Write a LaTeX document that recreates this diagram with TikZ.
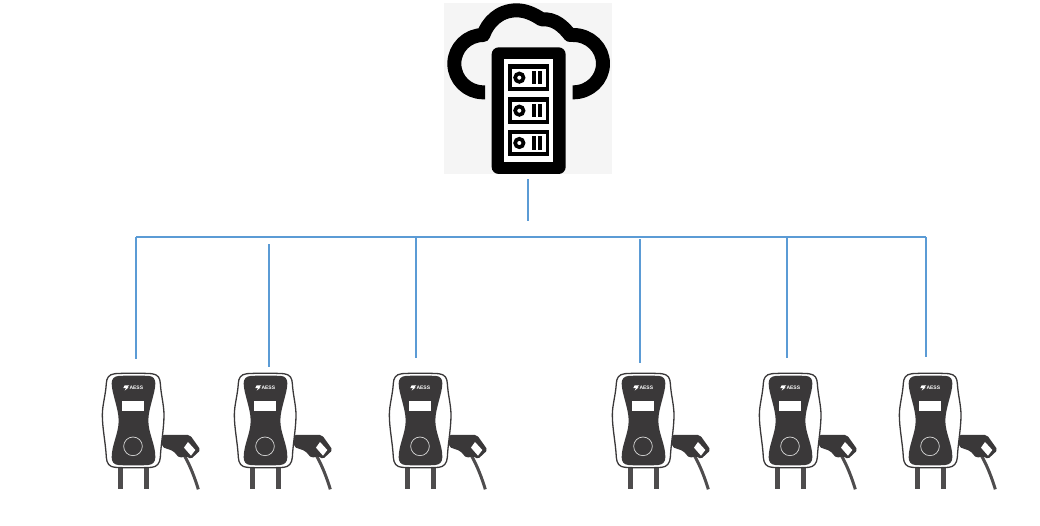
\documentclass[tikz,border=0pt]{standalone}
\usepackage{fontspec}
\setmainfont{Liberation Sans}
\definecolor{wire}{HTML}{5B9BD5}
\definecolor{evdark}{HTML}{3A3839}
\definecolor{panel}{HTML}{F5F5F5}
\tikzset{
  wire/.style={draw=wire,line width=1.3pt},
  evcharger/.pic={
    \begin{scope}[x=0.3333pt,y=-0.3333pt]
      \fill[evdark!90!white] (83,345) rectangle (100,418);
      \fill[evdark!90!white] (163,345) rectangle (178,418);
      \draw[evdark!90!white,line width=3pt] (282,315) .. controls (300,345) and (315,385) .. (325,418);
      \fill[evdark,rounded corners=2pt] (216,255) -- (300,255) -- (332,300) -- (302,328) -- (290,318) -- (268,324) -- (250,303) -- (216,291) -- cycle;
      \fill[white] (294,276) -- (316,300) -- (303,317) -- (282,293) -- cycle;
      \draw[evdark,fill=white,line width=1.3pt] (75,71)
        .. controls (110,69) and (150,69) .. (185,71)
        .. controls (205,73) and (210,85) .. (211,100)
        .. controls (213,135) and (222,165) .. (222,195)
        .. controls (222,235) and (213,280) .. (211,322)
        .. controls (210,340) and (200,351) .. (185,352)
        .. controls (150,354) and (110,354) .. (75,352)
        .. controls (58,351) and (50,340) .. (49,322)
        .. controls (47,280) and (37,235) .. (37,195)
        .. controls (37,165) and (47,135) .. (49,100)
        .. controls (50,85) and (55,73) .. (75,71) -- cycle;
      \fill[evdark] (85,78)
        .. controls (115,76) and (150,76) .. (178,78)
        .. controls (190,79) and (196,87) .. (196,100)
        .. controls (196,130) and (175,175) .. (175,212)
        .. controls (175,250) and (197,285) .. (196,322)
        .. controls (196,336) and (188,344) .. (175,345)
        .. controls (145,347) and (115,347) .. (85,345)
        .. controls (72,344) and (65,336) .. (65,322)
        .. controls (65,285) and (86,250) .. (86,212)
        .. controls (86,175) and (65,130) .. (65,100)
        .. controls (65,87) and (72,79) .. (85,78) -- cycle;
      \fill[white] (97,152) rectangle (161,184);
      \draw[white!80!evdark,line width=0.7pt] (129,289) circle (28);
      \fill[white] (104,106) -- (118,106) -- (112,112) -- (116,112) -- (104,122) -- (108,114) -- (100,114) -- cycle;
      \node[text=white,font=\bfseries\fontsize{5}{5}\selectfont,inner sep=0pt] (-logo) at (139,113) {AESS};
    \end{scope}
  }
}
\begin{document}
\begin{tikzpicture}[x=1pt,y=-1pt]
\useasboundingbox (0,0) rectangle (1040,525);
% server in the cloud
\node[fill=panel,minimum width=168pt,minimum height=171pt,inner sep=0pt,anchor=north west] (srv) at (444,3) {};
\begin{scope}[shift={(430,0)},x=0.3333pt,y=-0.3333pt]
  \draw[black,line width=14pt,line cap=butt,line join=round] (165,277) -- (160,277)
    arc[start angle=90,end angle=270,x radius=87,y radius=86]
    .. controls (172,70) and (205,31) .. (260,31)
    .. controls (290,31) and (315,45) .. (335,58)
    .. controls (375,55) and (400,80) .. (420,105)
    -- (430,105)
    arc[start angle=-90,end angle=90,x radius=89,y radius=86]
    -- (428,277);
  \fill[black,rounded corners=7pt] (185,142) rectangle (407,522);
  \fill[white] (222,178) rectangle (370,485);
  \foreach \yy in {193,292,389} {
    \fill[black] (235,\yy) rectangle (357,\yy+80);
    \fill[white] (247,\yy+14) rectangle (347,\yy+67);
    \draw[black,line width=3.7pt] (268,\yy+40) circle (12.5);
    \fill[black] (307,\yy+20) rectangle (319,\yy+60);
    \fill[black] (324,\yy+20) rectangle (336,\yy+60);
  }
\end{scope}
% chargers
\pic (c1) at (90,350) {evcharger};
\pic (c2) at (222,350) {evcharger};
\pic (c3) at (377,350) {evcharger};
\pic (c4) at (600,350) {evcharger};
\pic (c5) at (747,350) {evcharger};
\pic (c6) at (887,350) {evcharger};
% bus
\coordinate (up1) at (528,179);
\coordinate (up2) at (528,221);
\coordinate (busL) at (136,237);
\coordinate (busR) at (926,237);
\coordinate (t1) at (136,237); \coordinate (e1) at (136,359);
\coordinate (t2) at (269,244); \coordinate (e2) at (269,367);
\coordinate (t3) at (416,237); \coordinate (e3) at (416,358);
\coordinate (t4) at (640,239); \coordinate (e4) at (640,363);
\coordinate (t5) at (787,237); \coordinate (e5) at (787,358);
\coordinate (t6) at (926,237); \coordinate (e6) at (926,357);
\draw[wire] (up1) -- (up2);
\draw[wire] (busL) -- (busR);
\foreach \i in {1,...,6} { \draw[wire] (t\i) -- (e\i); }
\end{tikzpicture}
\end{document}
